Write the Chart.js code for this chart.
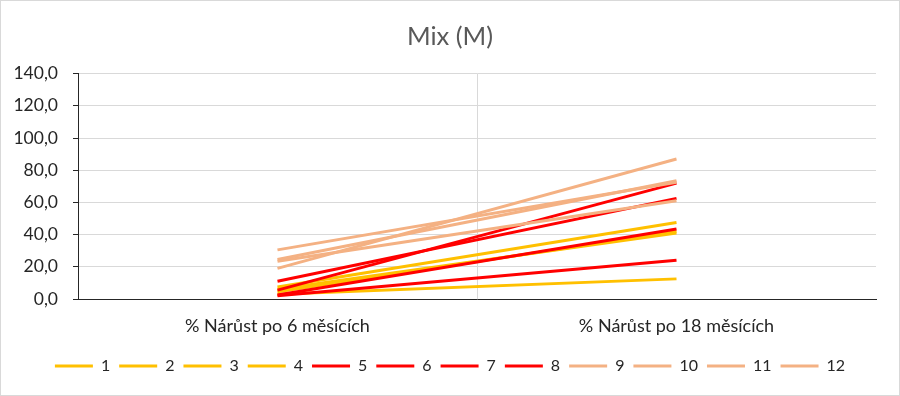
<!DOCTYPE html>
<html>
<head>
<meta charset="utf-8">
<script src="https://cdn.jsdelivr.net/npm/chart.js@4"></script>
<style>
  body { margin: 0; background: #fff; }
  #wrap { width: 900px; height: 396px; box-sizing: border-box; border: 1px solid #d9d9d9; }
</style>
</head>
<body>
<div id="wrap"><canvas id="myChart" width="898" height="394"></canvas></div>
<script>
// kategorie na ose x
const categories = ["% Nárůst po 6 měsících", "% Nárůst po 18 měsících"];
const seriesNames = ["1", "2", "3", "4", "5", "6", "7", "8", "9", "10", "11", "12"];
// hodnoty jednotlivych rad
const s1 = [7.5, 47.5];
const s2 = [4.5, 42];
const s3 = [6, 41];
const s4 = [3, 12.5];
const s5 = [5.5, 72];
const s6 = [11, 62.5];
const s7 = [2.5, 43.5];
const s8 = [2, 24];
const s9 = [19, 87];
const s10 = [24.5, 73.5];
const s11 = [30.5, 72.5];
const s12 = [23.5, 61];
const yTicks = [0, 20, 40, 60, 80, 100, 120, 140];

const allSeries = [s1, s2, s3, s4, s5, s6, s7, s8, s9, s10, s11, s12];
const colors = ["#FFC000", "#FFC000", "#FFC000", "#FFC000",
  "#FF0000", "#FF0000", "#FF0000", "#FF0000",
  "#F4B183", "#F4B183", "#F4B183", "#F4B183"];

const font = "Lato";
const textColor = "#262626";
const ctx = document.getElementById("myChart");

new Chart(ctx, {
  type: "line",
  data: {
    labels: categories,
    datasets: allSeries.map((d, i) => ({
      label: seriesNames[i],
      data: d,
      borderColor: colors[i],
      backgroundColor: colors[i],
      borderWidth: 3,
      pointRadius: 0,
      tension: 0,
      order: allSeries.length - i,
    })),
  },
  options: {
    responsive: false,
    animation: false,
    layout: { padding: { left: 0, right: 0, top: 0, bottom: 11 } },
    scales: {
      x: {
        offset: true,
        afterFit: (s) => { s.height = 50; },
        grid: {
          offset: true,
          drawTicks: false,
          color: (c) => (c.index === 1 ? "#d9d9d9" : "transparent"),
        },
        border: { color: "#262626", width: 1 },
        ticks: { color: textColor, font: { family: font, size: 18 }, padding: 16 },
      },
      y: {
        min: 0,
        max: 140,
        afterFit: (s) => { s.width = 77; },
        afterBuildTicks: (s) => {
          const t = [];
          for (let v = 0; v <= 140; v += 10) t.push({ value: v });
          s.ticks = t;
        },
        grid: {
          color: (c) => (yTicks.includes(c.tick.value) ? "#d9d9d9" : "transparent"),
          tickColor: "#262626",
          tickLength: 5,
        },
        border: { color: "#262626", width: 1 },
        ticks: {
          color: textColor,
          font: { family: font, size: 17.5 },
          padding: 15,
          callback: (v) => (yTicks.includes(v) ? v.toFixed(1).replace(".", ",") : ""),
        },
      },
      // prazdna osa vpravo jen kvuli okraji
      yr: {
        position: "right",
        afterFit: (s) => { s.width = 23; },
        grid: { display: false },
        border: { display: false },
        ticks: { display: false },
      },
    },
    plugins: {
      title: {
        display: true,
        text: "Mix (M)",
        color: "#595959",
        font: { family: font, size: 25.5, weight: "normal" },
        padding: { top: 20, bottom: 22 },
      },
      legend: {
        position: "bottom",
        labels: {
          color: textColor,
          font: { family: font, size: 16 },
          boxWidth: 38,
          boxHeight: 3,
          padding: 9,
          sort: (a, b) => a.datasetIndex - b.datasetIndex,
          generateLabels: (chart) =>
            Chart.defaults.plugins.legend.labels.generateLabels(chart).map((l) => ({ ...l, lineWidth: 0 })),
        },
      },
      tooltip: { enabled: false },
    },
  },
});
</script>
</body>
</html>
